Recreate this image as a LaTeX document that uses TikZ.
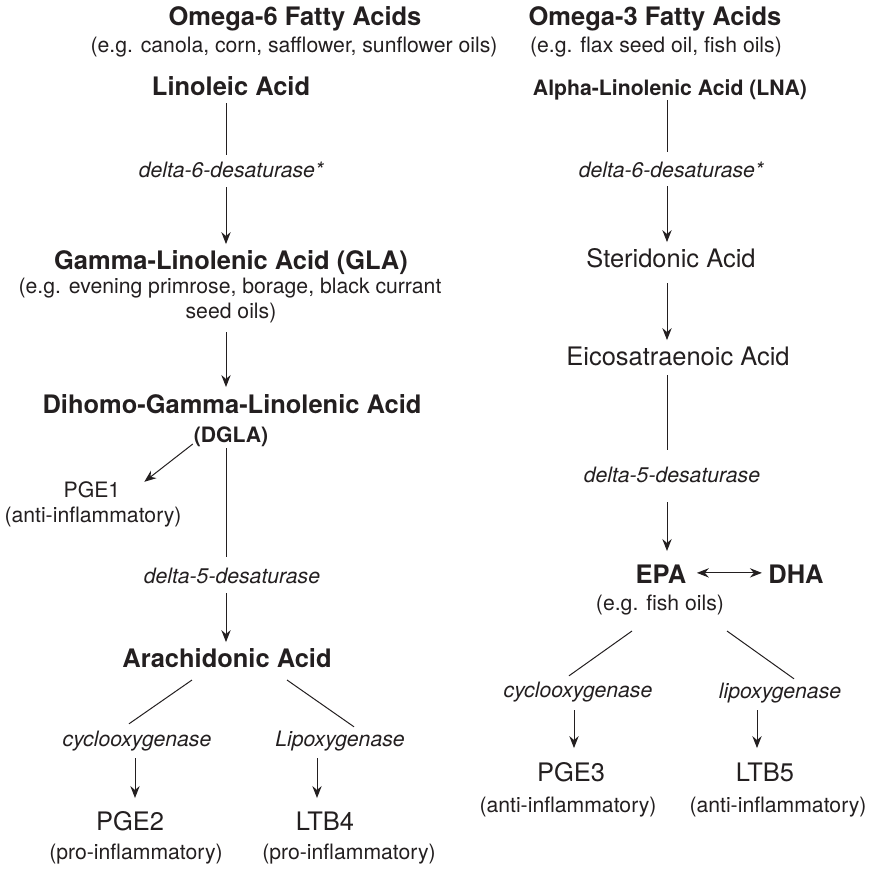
\documentclass[tikz,border=0pt]{standalone}
\usepackage{fontspec}
\setmainfont{TeX Gyre Heros}
\usetikzlibrary{arrows.meta,calc}

\definecolor{ink}{RGB}{35,31,32}

\tikzset{every picture/.style={line width=0.75pt}}
\tikzset{
  txt/.style={inner sep=0pt, outer sep=0pt, anchor=base, text=ink},
  bighd/.style={txt, font=\fontsize{19.1}{23}\selectfont\bfseries, text height=13.7pt, text depth=0pt},
  big/.style={txt, font=\fontsize{19.1}{23}\selectfont, text height=13.7pt, text depth=0pt},
  smallhd/.style={txt, font=\fontsize{15.9}{19}\selectfont\bfseries, text height=11.4pt, text depth=0pt},
  note/.style={txt, font=\fontsize{15.9}{19}\selectfont, text height=11.4pt, text depth=0pt},
  enz/.style={txt, font=\fontsize{15.9}{19}\selectfont\itshape, text height=11.4pt, text depth=0pt},
  link/.style={draw=ink},
  arr/.style={draw=ink, -{Stealth[length=9pt,width=7pt,inset=3pt]}},
  darr/.style={draw=ink, {Stealth[length=9pt,width=7pt,inset=3pt]}-{Stealth[length=9pt,width=7pt,inset=3pt]}},
}

\begin{document}
\begin{tikzpicture}[x=0.75pt,y=0.75pt,yscale=-1,xscale=1]
	\useasboundingbox (0,0) rectangle (872,869);

	% columns of the vertical connectors
	\coordinate (xl) at (226,0);
	\coordinate (xpge2) at (135,0);
	\coordinate (xltb4) at (317,0);
	\coordinate (xr) at (667,0);
	\coordinate (xpge3) at (574,0);
	\coordinate (xltb5) at (757,0);

	% Text Node
	\node[bighd] (om6) at (295,25) {Omega-6 Fatty Acids};
	% Text Node
	\node[note] (src6) at (294,52) {(e.g. canola, corn, safflower, sunflower oils)};
	% Text Node
	\node[bighd] (lin) at (231,95) {Linoleic Acid};
	% Text Node
	\node[enz] (d6l) at (231,177) {delta-6-desaturase*};
	% Text Node
	\node[bighd] (gla) at (231,269) {Gamma-Linolenic Acid (GLA)};
	% Text Node
	\node[note] (glasrc) at (230,293) {(e.g. evening primrose, borage, black currant};
	% Text Node
	\node[note] (glasrc2) at (231,318) {seed oils)};
	% Text Node
	\node[bighd] (dgla) at (232,413) {Dihomo-Gamma-Linolenic Acid};
	% Text Node
	\node[smallhd] (dglab) at (231,442) {(DGLA)};
	% Text Node
	\node[note] (pge1) at (92,497) {PGE1};
	% Text Node
	\node[note] (pge1n) at (93,522) {(anti-inflammatory)};
	% Text Node
	\node[enz] (d5l) at (232,583) {delta-5-desaturase};
	% Text Node
	\node[bighd] (ara) at (227,667) {Arachidonic Acid};
	% Text Node
	\node[enz] (coxl) at (137,746) {cyclooxygenase};
	% Text Node
	\node[enz] (loxl) at (340,746) {Lipoxygenase};
	% Text Node
	\node[big] (pge2) at (130,830) {PGE2};
	% Text Node
	\node[big] (ltb4) at (325,830) {LTB4};
	% Text Node
	\node[note] (pge2n) at (136,859) {(pro-inflammatory)};
	% Text Node
	\node[note] (ltb4n) at (349,859) {(pro-inflammatory)};

	% Text Node
	\node[bighd] (om3) at (655,25) {Omega-3 Fatty Acids};
	% Text Node
	\node[note] (src3) at (656,52) {(e.g. flax seed oil, fish oils)};
	% Text Node
	\node[smallhd] (lna) at (670,95) {Alpha-Linolenic Acid (LNA)};
	% Text Node
	\node[enz] (d6r) at (671,177) {delta-6-desaturase*};
	% Text Node
	\node[big] (ste) at (671,267) {Steridonic Acid};
	% Text Node
	\node[big] (eic) at (678,365) {Eicosatraenoic Acid};
	% Text Node
	\node[enz] (d5r) at (672,482) {delta-5-desaturase};
	% Text Node
	\node[bighd] (epa) at (661,583) {EPA};
	% Text Node
	\node[bighd] (dha) at (796,583) {DHA};
	% Text Node
	\node[note] (epasrc) at (660,610) {(e.g. fish oils)};
	% Text Node
	\node[enz] (coxr) at (578,697) {cyclooxygenase};
	% Text Node
	\node[enz] (loxr) at (780,698) {lipoxygenase};
	% Text Node
	\node[big] (pge3) at (571,781) {PGE3};
	% Text Node
	\node[big] (ltb5) at (765,781) {LTB5};
	% Text Node
	\node[note] (pge3n) at (568,812) {(anti-inflammatory)};
	% Text Node
	\node[note] (ltb5n) at (778,812) {(anti-inflammatory)};

	%Straight Lines (omega-6)
	\draw [link, shorten <=6pt, shorten >=5pt] (lin.south -| xl) -- (d6l.north -| xl) ;
	\draw [arr, shorten <=7.5pt, shorten >=5pt] (d6l.south -| xl) -- (gla.north -| xl) ;
	\draw [arr, shorten <=10.5pt, shorten >=5.8pt] (glasrc2.south -| xl) -- (dgla.north -| xl) ;
	\draw [arr] ($(dglab.south west)+(-1,2)$) -- ($(pge1.north east)+(24,0)$) ;
	\draw [link, shorten <=4.5pt, shorten >=8.1pt] (dglab.south -| xl) -- (d5l.north -| xl) ;
	\draw [arr, shorten <=7.5pt, shorten >=5pt] (d5l.south -| xl) -- (ara.north -| xl) ;
	\draw [link] ($(ara.south)+(-35,13)$) -- ($(coxl.north)+(-8,-7)$) ;
	\draw [link] ($(ara.south)+(60,13)$) -- ($(loxl.north)+(14,-4)$) ;
	\draw [arr, shorten <=9pt, shorten >=10.3pt] (coxl.south -| xpge2) -- (pge2.north -| xpge2) ;
	\draw [arr, shorten <=9pt, shorten >=10.3pt] (loxl.south -| xltb4) -- (ltb4.north -| xltb4) ;

	%Straight Lines (omega-3)
	\draw [link, shorten <=3.75pt, shorten >=7.3pt] (lna.south -| xr) -- (d6r.north -| xr) ;
	\draw [arr, shorten <=6.75pt, shorten >=5pt] (d6r.south -| xr) -- (ste.north -| xr) ;
	\draw [arr, shorten <=12pt, shorten >=5pt] (ste.south -| xr) -- (eic.north -| xr) ;
	\draw [link, shorten <=7.5pt, shorten >=12.6pt] (eic.south -| xr) -- (d5r.north -| xr) ;
	\draw [arr, shorten <=15pt, shorten >=10.3pt] (d5r.south -| xr) -- (epa.north -| xr) ;
	\draw [darr, shorten <=7.9pt, shorten >=4.9pt] ($(epa.east)+(0,-1)$) -- ($(dha.west)+(0,-1)$) ;
	\draw [link] ($(epasrc.south)+(-28,21)$) -- ($(coxr.north)+(-9,-6)$) ;
	\draw [link] ($(epasrc.south)+(67,21)$) -- ($(loxr.north)+(14,-4)$) ;
	\draw [arr, shorten <=9.75pt, shorten >=11pt] (coxr.south -| xpge3) -- (pge3.north -| xpge3) ;
	\draw [arr, shorten <=9pt, shorten >=11pt] (loxr.south -| xltb5) -- (ltb5.north -| xltb5) ;
\end{tikzpicture}
\end{document}
